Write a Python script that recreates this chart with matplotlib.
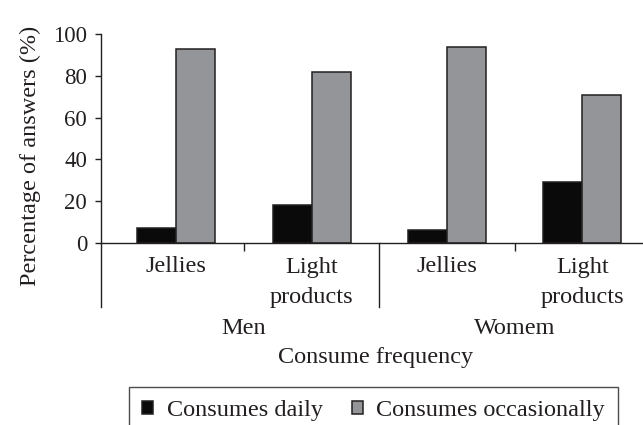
import matplotlib
matplotlib.use('Agg')
import matplotlib.pyplot as plt
import numpy as np
from matplotlib.transforms import blended_transform_factory

plt.rcParams['font.family'] = ['Liberation Serif', 'DejaVu Serif']

# data
groups = ['Men', 'Womem']
products = ['Jellies', 'Light\nproducts', 'Jellies', 'Light\nproducts']
daily = [7, 18, 6, 29]
occasionally = [93, 82, 94, 71]
series_names = ['Consumes daily', 'Consumes occasionally']
yticks = [0, 20, 40, 60, 80, 100]

W, H = 643, 425
fig = plt.figure(figsize=(W / 100, H / 100), dpi=100)
ax = fig.add_axes([101 / W, 1 - 242.7 / H, (650 - 101) / W, (242.7 - 34.3) / H])

ink = '#231f20'
fs = 17.5
x = np.arange(len(products))
w = 0.288
ax.bar(x - w / 2, daily, w, color='#0a0a0a', edgecolor=ink, linewidth=1.1,
       label=series_names[0])
ax.bar(x + w / 2, occasionally, w, color='#939598', edgecolor=ink, linewidth=1.1,
       label=series_names[1])

ax.set_xlim(-0.555, 3.5)
ax.set_ylim(0, 100)
ax.set_yticks(yticks)
ax.tick_params(axis='y', direction='out', length=4, width=1, color=ink,
               labelsize=16.5, labelcolor=ink, pad=6)
ax.set_xticks([0.5, 2.5])
ax.set_xticklabels([])
ax.tick_params(axis='x', direction='out', length=6, width=1, color=ink)
for s in ['top', 'right']:
    ax.spines[s].set_visible(False)
for s in ['left', 'bottom']:
    ax.spines[s].set_color(ink)
    ax.spines[s].set_linewidth(1)

# category labels and group separators below the axis
tr = blended_transform_factory(ax.transData, fig.transFigure)
for xi, name in zip(x, products):
    ax.text(xi, 1 - 282.5 / H if '\n' in name else 1 - 267 / H, name,
            transform=tr, ha='center', va='center', fontsize=fs,
            color=ink, linespacing=1.5)
for xs in [-0.555, 1.5]:
    ax.plot([xs, xs], [1 - 242.7 / H, 1 - 307 / H], transform=tr, color=ink,
            linewidth=1, clip_on=False)
for gi, g in enumerate(groups):
    ax.text(gi * 2 + 0.5, 1 - 328 / H, g, transform=tr, ha='center',
            va='center', fontsize=fs, color=ink)
fig.text(376 / W, 1 - 358 / H, 'Consume frequency', ha='center', va='center',
         fontsize=fs, color=ink)
fig.text(30 / W, 1 - 156 / H, 'Percentage of answers (%)', rotation=90,
         ha='center', va='center', fontsize=fs, color=ink)

leg = fig.legend(loc='upper left', bbox_to_anchor=(129 / W, 1 - 387 / H),
                 ncol=2, frameon=True, fancybox=False, fontsize=fs,
                 handlelength=0.45, handleheight=0.45, handletextpad=0.55,
                 columnspacing=1.2, borderpad=0.55, borderaxespad=0)
leg.get_frame().set_edgecolor(ink)
leg.get_frame().set_linewidth(1)
for t in leg.get_texts():
    t.set_color(ink)

fig.savefig('out.png', dpi=100)
